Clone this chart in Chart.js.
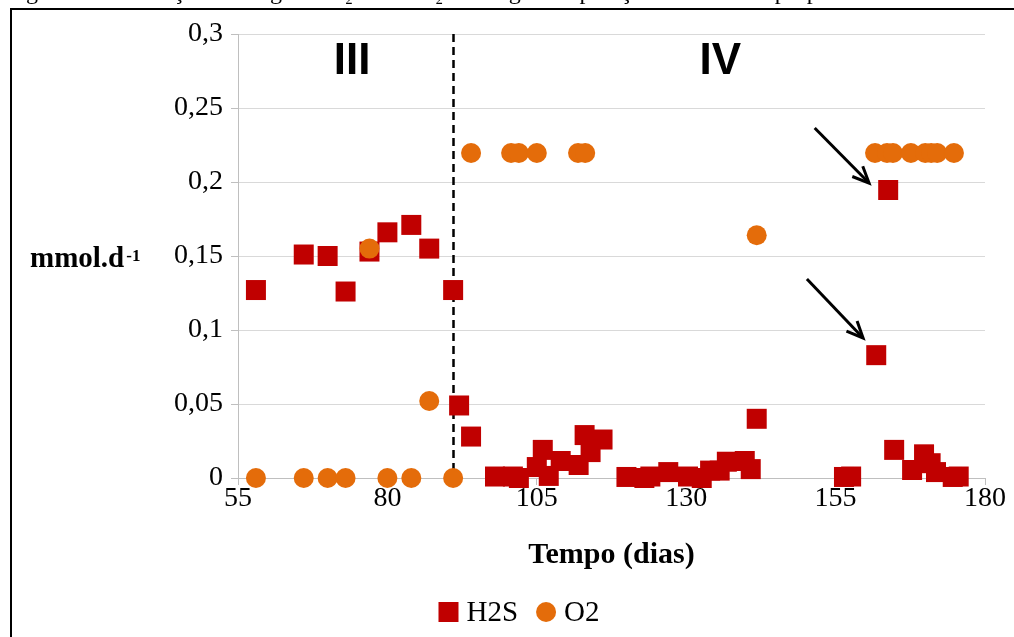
<!DOCTYPE html>
<html lang="pt-BR">
<head>
<meta charset="UTF-8">
<script src="https://cdn.jsdelivr.net/npm/chart.js@4.4.1/dist/chart.umd.min.js"></script>
<style>
*{margin:0;padding:0}
body{background:#fff;width:1014px;height:637px;overflow:hidden}
</style>
</head>
<body>
<canvas id="grafico" width="1014" height="637"></canvas>
<script>
// dados (dias, mmol/d)
const diasH2S=[58,66,70,73,77,80,84,87,91,92,94,98,101,102,105,106,107,109,112,113,114,116,120,123,124,127,130.3,132.6,134,135.6,136.8,139.8,140.8,141.8,156.4,157.6,161.8,163.8,164.8,167.8,169.8,170.9,171.8,174.6,175.6];
const cargaH2S=[0.127,0.151,0.150,0.126,0.153,0.166,0.171,0.155,0.127,0.049,0.028,0.001,0.001,0.000,0.0074,0.019,0.0014,0.0115,0.0088,0.029,0.0175,0.026,0.0007,0.000,0.001,0.004,0.001,0.000,0.005,0.005,0.011,0.0115,0.006,0.040,0.0007,0.001,0.083,0.1946,0.019,0.0054,0.016,0.010,0.004,0.0007,0.001];
const diasO2=[58,66,70,73,77,80,84,87,91,94,100.7,102,105,111.9,113.1,141.8,161.6,163.6,164.6,167.6,170,171,172,174.8];
const cargaO2=[0,0,0,0,0.155,0,0,0.052,0,0.2196,0.2196,0.2196,0.2196,0.2196,0.2196,0.164,0.2196,0.2196,0.2196,0.2196,0.2196,0.2196,0.2196,0.2196];
const xTicks=[55,80,105,130,155,180];
const yTicks=['0','0,05','0,1','0,15','0,2','0,25','0,3'];

// anotações (em unidades do gráfico)
const divisaFase=91;
const fases=[['III',74.1],['IV',135.7]];
const setas=[[151.5,0.2365,160.6,0.1993],[150.2,0.1345,159.6,0.0946]];

const VERM='#C00000',LARANJA='#E46C0A';
const SERIF='"Liberation Serif","Times New Roman",serif';

const anotacoes={
  id:'anotacoes',
  beforeDatasetsDraw(chart){
    const {ctx,chartArea:a,scales:{x}}=chart;
    const px=Math.round(x.getPixelForValue(divisaFase))+0.5;
    ctx.save();
    ctx.strokeStyle='#000';ctx.lineWidth=2.5;ctx.setLineDash([8,5]);
    ctx.beginPath();ctx.moveTo(px,a.top);ctx.lineTo(px,a.bottom);ctx.stroke();
    ctx.restore();
  },
  afterDraw(chart){
    const {ctx,scales:{x,y}}=chart;
    ctx.save();
    // moldura e legenda da figura cortada no topo
    ctx.fillStyle='#000';
    ctx.font='24px '+SERIF;ctx.textBaseline='alphabetic';
    ctx.fillText('Figura 27 – Variação da carga de H₂S e de O₂ ao longo da operação do biofiltro proposto',6,-1);
    ctx.strokeStyle='#000';ctx.lineWidth=2;
    ctx.beginPath();ctx.moveTo(11,640);ctx.lineTo(11,9);ctx.lineTo(1020,9);ctx.stroke();

    // fases
    ctx.font='bold 44px "Liberation Sans",Arial,sans-serif';
    ctx.textAlign='center';ctx.textBaseline='middle';
    fases.forEach(([t,d])=>ctx.fillText(t,x.getPixelForValue(d),y.getPixelForValue(0.281)));

    // setas
    ctx.lineWidth=3;ctx.lineCap='butt';ctx.lineJoin='miter';
    setas.forEach(([x0,y0,x1,y1])=>{
      const ax=x.getPixelForValue(x0),ay=y.getPixelForValue(y0);
      const bx=x.getPixelForValue(x1),by=y.getPixelForValue(y1);
      const ang=Math.atan2(by-ay,bx-ax),h=18;
      ctx.beginPath();ctx.moveTo(ax,ay);ctx.lineTo(bx,by);ctx.stroke();
      ctx.beginPath();
      ctx.moveTo(bx-h*Math.cos(ang-0.42),by-h*Math.sin(ang-0.42));
      ctx.lineTo(bx,by);
      ctx.lineTo(bx-h*Math.cos(ang+0.42),by-h*Math.sin(ang+0.42));
      ctx.stroke();
    });

    // título do eixo y (horizontal)
    ctx.textAlign='left';ctx.textBaseline='alphabetic';
    ctx.font='bold 29px '+SERIF;
    ctx.fillText('mmol.d',30,267);
    const w=ctx.measureText('mmol.d').width;
    ctx.font='bold 17px '+SERIF;
    ctx.fillText('-1',30+w+2,261);

    // legenda
    const itens=chart.data.datasets.map(d=>({t:d.label,c:d.backgroundColor,s:d.pointStyle}));
    ctx.font='29px '+SERIF;
    const larg=itens.map(it=>20+8+ctx.measureText(it.t).width);
    const total=larg.reduce((s,v)=>s+v,0)+18*(itens.length-1);
    let lx=519-total/2;const ly=612;
    itens.forEach((it,i)=>{
      ctx.fillStyle=it.c;
      if(it.s==='rect')ctx.fillRect(lx,ly-10,20,20);
      else{ctx.beginPath();ctx.arc(lx+10,ly,10,0,Math.PI*2);ctx.fill();}
      ctx.fillStyle='#000';ctx.textBaseline='middle';
      ctx.fillText(it.t,lx+28,ly+1);
      lx+=larg[i]+18;
    });
    ctx.restore();
  }
};

new Chart(document.getElementById('grafico'),{
  type:'scatter',
  data:{datasets:[
    {label:'H2S',data:diasH2S.map((d,i)=>({x:d,y:cargaH2S[i]})),pointStyle:'rect',pointRadius:14.14,pointHoverRadius:14.14,
     backgroundColor:VERM,borderColor:VERM,borderWidth:0,order:1,clip:false},
    {label:'O2',data:diasO2.map((d,i)=>({x:d,y:cargaO2[i]})),pointStyle:'circle',pointRadius:10,pointHoverRadius:10,
     backgroundColor:LARANJA,borderColor:LARANJA,borderWidth:0,order:0,clip:false}
  ]},
  options:{
    responsive:false,animation:false,
    layout:{padding:{left:0,right:29,top:34,bottom:64}},
    plugins:{legend:{display:false},tooltip:{enabled:false}},
    scales:{
      x:{type:'linear',min:55,max:180,
        afterBuildTicks:s=>{s.ticks=xTicks.map(v=>({value:v}));},
        ticks:{font:{family:SERIF,size:28},color:'#000',padding:-3,maxRotation:0},
        grid:{drawOnChartArea:false,tickColor:'#BFBFBF',tickLength:7},
        border:{color:'#BFBFBF'},
        title:{display:true,text:'Tempo (dias)',color:'#000',font:{family:SERIF,size:30,weight:'bold'},padding:{top:0,bottom:0}},
        afterFit:s=>{s.height=95;}
      },
      y:{min:0,max:0.3,
        ticks:{stepSize:0.05,callback:v=>yTicks[Math.round(v/0.05)],font:{family:SERIF,size:28},color:'#000',padding:8},
        grid:{color:'#D9D9D9',tickColor:'#BFBFBF',tickLength:7},
        border:{color:'#BFBFBF'},
        afterFit:s=>{s.width=238;}
      }
    }
  },
  plugins:[anotacoes]
});
</script>
</body>
</html>
